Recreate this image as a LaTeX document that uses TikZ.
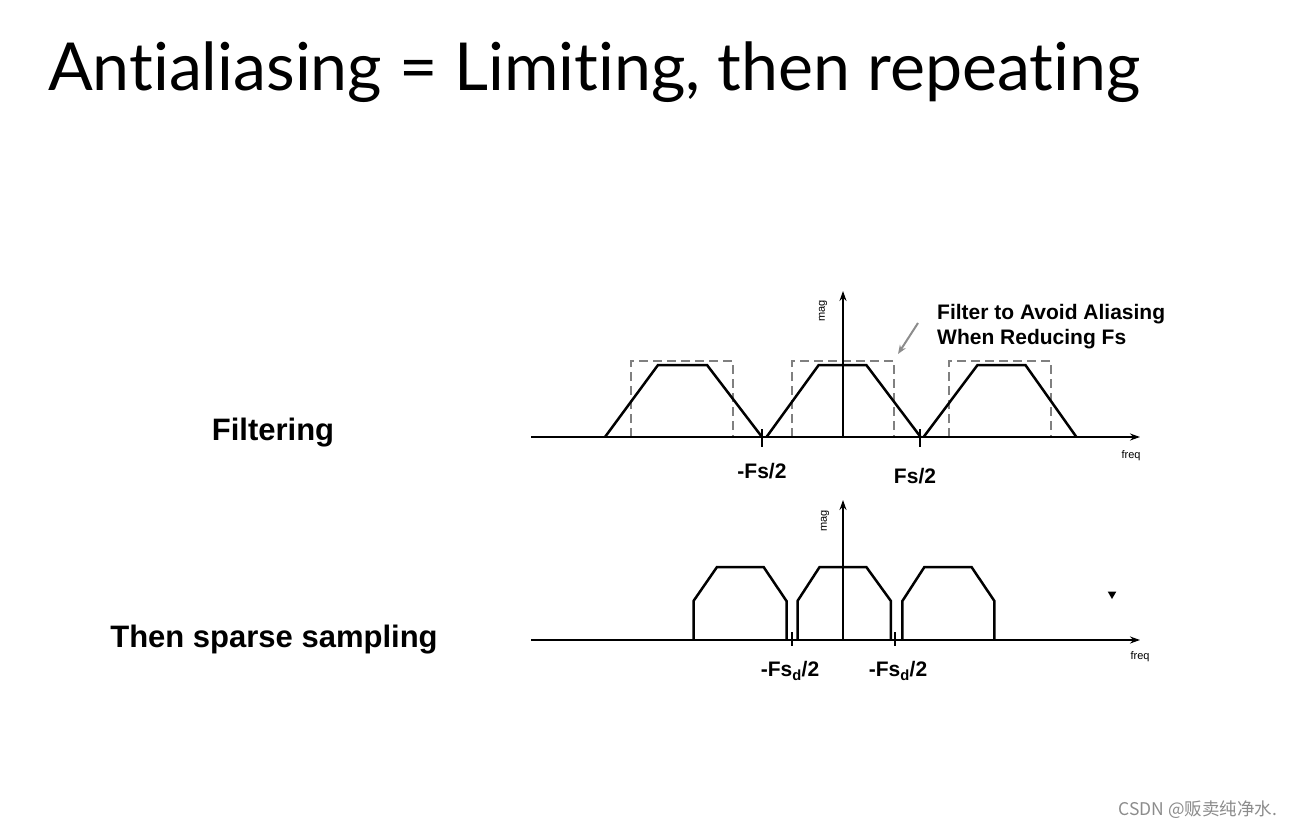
\documentclass[tikz,border=0pt]{standalone}
\usepackage{fontspec}
\setmainfont{Liberation Sans}
\newfontfamily\titlefont[Ligatures=NoCommon]{Lato}
\newfontfamily\cjk{Noto Sans CJK SC}
\usetikzlibrary{positioning,arrows.meta,shapes.geometric}
\tikzset{
  faxis/.style={-{Stealth[length=10pt,width=7pt]},line width=2.6pt},
  band/.style={line width=2.5pt,line join=miter},
  fbox/.style={dash pattern=on 9pt off 5pt,line width=2.2pt,black!50},
  ftick/.style={line width=2.6pt},
  axlbl/.style={font=\fontsize{11}{12}\selectfont,inner sep=0pt},
  frqlbl/.style={font=\bfseries\fontsize{21}{24}\selectfont,inner sep=0pt},
  sidelbl/.style={font=\bfseries\fontsize{31}{36}\selectfont,inner sep=0pt},
  note/.style={font=\bfseries\fontsize{21}{24}\selectfont,inner sep=0pt,anchor=base west},
}

\begin{document}
\begin{tikzpicture}[x=1pt,y=-1pt]
  \useasboundingbox (0,0) rectangle (1294,830);
  \node[anchor=base west,inner sep=0pt,font=\titlefont\fontsize{66.2}{80}\selectfont] (title) at (48,90)
    {Antialiasing = Limiting, then repeating};
  % side labels
  \node[sidelbl] (filt) at (273,433) {Filtering};
  \node[sidelbl] (samp) at (274,640) {Then sparse sampling};

  % ---- upper spectrum: filtering ----
  \coordinate (o1) at (843,437);
  \coordinate (x1l) at (531,437);
  \coordinate (x1r) at (1140,437);
  \coordinate (y1t) at (843,291);
  \foreach \dl/\dr in {631/733,792/894,949/1051}{
    \draw[fbox] (\dl,437) -- (\dl,361) -- (\dr,361) -- (\dr,437);}
  \foreach \a/\b/\c/\d in {605/658/707/762,766.5/818.7/866.3/920.6,923.6/977.5/1025.4/1076.4}{
    \draw[band] (\a,437) -- (\b,365) -- (\c,365) -- (\d,437);}
  \draw[faxis] (x1l) -- (x1r);
  \draw[faxis] (o1) -- (y1t);
  \node[axlbl,rotate=90] (mag1) at (823,311) {mag};
  \node[axlbl] (frq1) at (1131,456) {freq};
  \coordinate (t1) at (762,437);
  \coordinate (t2) at (920,437);
  \draw[ftick] ([yshift=8pt]t1) -- ([yshift=-10pt]t1);
  \draw[ftick] ([yshift=8pt]t2) -- ([yshift=-10pt]t2);
  \node[frqlbl] (lfs) at (762,471) {-Fs/2};
  \node[frqlbl] (rfs) at (915,476) {Fs/2};
  % note with arrow
  \node[note] (nt1) at (937,319) {Filter to Avoid Aliasing};
  \node[note] (nt2) at (937,344) {When Reducing Fs};
  \coordinate (ntail) at (918,323);
  \coordinate (nhead) at (898,354);
  \draw[-{Stealth[length=9pt,width=7pt]},line width=2pt,black!45] (ntail) -- (nhead);

  % ---- lower spectrum: sparse sampling ----
  \coordinate (o2) at (843,640);
  \coordinate (x2l) at (531,640);
  \coordinate (x2r) at (1140,640);
  \coordinate (y2t) at (843,500);
  \foreach \a/\b/\c/\d in {693.5/717/763.6/786.5,797.5/819.6/866.3/890.9,902.4/924.4/971.5/994.4}{
    \draw[band] (\a,640) -- (\a,601) -- (\b,567) -- (\c,567) -- (\d,601) -- (\d,640);}
  \draw[faxis] (x2l) -- (x2r);
  \draw[faxis] (o2) -- (y2t);
  \node[axlbl,rotate=90] (mag2) at (825,521) {mag};
  \node[axlbl] (frq2) at (1140,657) {freq};
  \coordinate (t3) at (792,640);
  \coordinate (t4) at (895,640);
  \draw[ftick] ([yshift=8pt]t3) -- ([yshift=-6pt]t3);
  \draw[ftick] ([yshift=8pt]t4) -- ([yshift=-6pt]t4);
  \node[frqlbl] (lfsd) at (790,671) {-Fs\textsubscript{d}/2};
  \node[frqlbl] (rfsd) at (898,671) {-Fs\textsubscript{d}/2};
  \node[regular polygon,regular polygon sides=3,shape border rotate=180,fill,inner sep=0pt,minimum size=10pt] (mrk) at (1112,594) {};

  % watermark
  \node[font=\cjk\fontsize{17.5}{20}\selectfont,text=black!45,inner sep=0pt] (wm) at (1198,810) {CSDN @贩卖纯净水.};
\end{tikzpicture}
\end{document}
